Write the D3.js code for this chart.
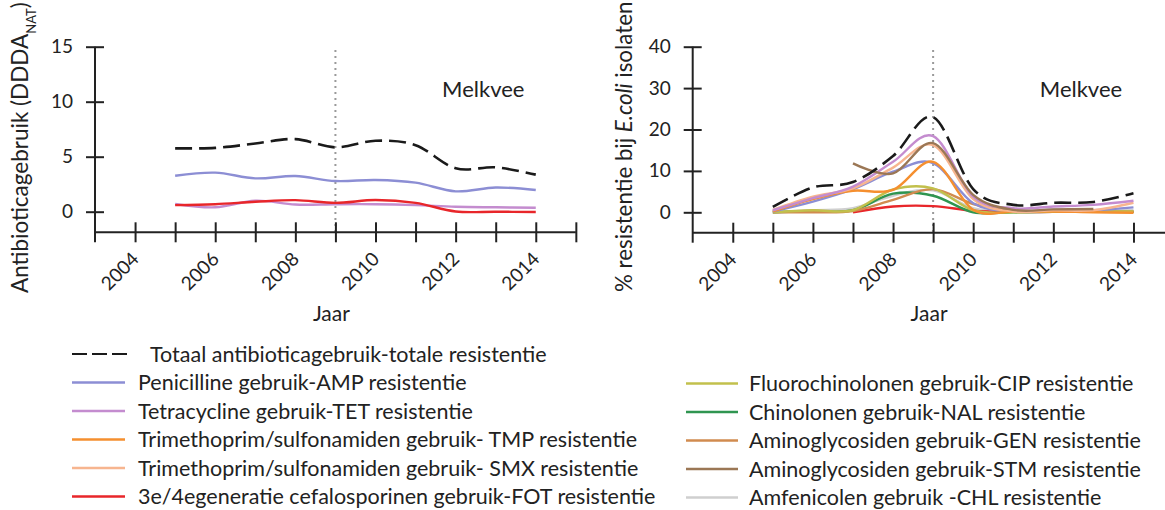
<!DOCTYPE html>
<html>
<head>
<meta charset="utf-8">
<script src="https://cdn.jsdelivr.net/npm/d3@7"></script>
<style>
  body { margin: 0; background: #fff; }
  svg text { font-family: Lato, "Open Sans", sans-serif; fill: #222; }
</style>
</head>
<body>
<div id="chart"></div>
<script>
var width = 1165;
var height = 510;

// years on the x axis
var years = [2005, 2006, 2007, 2008, 2009, 2010, 2011, 2012, 2013, 2014];
var evenYears = [2004, 2006, 2008, 2010, 2012, 2014];

// left panel: antibiotic use (DDDA_NAT)
var useTotal = [5.76, 5.8, 6.2, 6.6, 5.85, 6.45, 6.05, 3.95, 4.03, 3.37];
var useAMP   = [3.27, 3.55, 3.03, 3.24, 2.79, 2.88, 2.64, 1.85, 2.2, 1.97];
var useTET   = [0.7, 0.4, 1.0, 0.65, 0.68, 0.68, 0.6, 0.45, 0.4, 0.36];
var useFOT   = [0.6, 0.68, 0.9, 1.05, 0.8, 1.06, 0.8, 0.02, 0.0, -0.03];

// right panel: % resistance in E. coli
var resTotal = [1.3, 6.0, 7.3, 13.6, 23.0, 5.6, 1.8, 2.3, 2.5, 4.6];
var resTET   = [0.5, 3.4, 6.2, 12.2, 18.4, 3.8, 1.0, 1.4, 1.8, 2.8];
var resSTM   = [null, null, 11.8, 9.4, 16.7, 4.2, 0.6, 0.7, 0.8, null];
var resSMX   = [0.6, 3.8, 5.8, 10.8, 16.2, 3.2, 0.2, 0.5, 0.5, 2.3];
var resAMP   = [0.2, 2.6, 5.6, 9.8, 11.9, 2.2, 0.3, 0.6, 0.5, 1.2];
var resTMP   = [0.2, 3.2, 5.2, 5.4, 12.2, 0.6, 0.2, 0.2, 0.0, -0.1];
var resCIP   = [0.0, 0.5, 0.5, 5.5, 5.8, 0.5, 0.0, 0.2, 0.2, 0.2];
var resNAL   = [0.0, 0.3, 0.5, 4.5, 4.0, 0.0, 0.0, 0.1, 0.1, 0.1];
var resGEN   = [0.0, 0.0, 0.3, 3.0, 5.6, 2.0, 0.3, 0.2, 0.2, 0.2];
var resCHL   = [0.0, 0.5, 1.0, 4.0, 5.3, 1.0, 0.2, 0.3, 0.3, 0.5];
var resFOT   = [null, null, 0.0, 1.4, 1.5, 0.4, 0.1, 0.1, 0.1, 0.1];

// legend
var legendLeft = [
  "Penicilline gebruik-AMP resistentie",
  "Tetracycline gebruik-TET resistentie",
  "Trimethoprim/sulfonamiden gebruik- TMP resistentie",
  "Trimethoprim/sulfonamiden gebruik- SMX resistentie",
  "3e/4egeneratie cefalosporinen gebruik-FOT resistentie"
];
var legendRight = [
  "Fluorochinolonen gebruik-CIP resistentie",
  "Chinolonen gebruik-NAL resistentie",
  "Aminoglycosiden gebruik-GEN resistentie",
  "Aminoglycosiden gebruik-STM resistentie",
  "Amfenicolen gebruik -CHL resistentie"
];
var totalLabel = "Totaal antibioticagebruik-totale resistentie";

var colors = {
  total: "#1a1a1a", AMP: "#8c8ed4", TET: "#c48ccf", TMP: "#f58f2f", SMX: "#f7b58f",
  FOT: "#e8262a", CIP: "#c2c04c", NAL: "#2f9550", GEN: "#d18b4f", STM: "#9b7755", CHL: "#cfcfcf"
};
var legendLeftColors = [colors.AMP, colors.TET, colors.TMP, colors.SMX, colors.FOT];
var legendRightColors = [colors.CIP, colors.NAL, colors.GEN, colors.STM, colors.CHL];

var svg = d3.select("#chart").append("svg")
  .attr("width", width)
  .attr("height", height);

function drawPanel(opt) {
  var x = d3.scaleLinear().domain([2003, 2015]).range([opt.x0, opt.x0 + 12 * 40.07]);
  var y = d3.scaleLinear().domain([0, opt.yMax]).range([opt.y0, 46.7]);
  var axisY = opt.axisY;
  var g = svg.append("g");

  // dotted line at 2009
  g.append("line")
    .attr("x1", x(2009)).attr("x2", x(2009))
    .attr("y1", 50).attr("y2", axisY)
    .attr("stroke", "#9a9a9a")
    .attr("stroke-width", 2)
    .attr("stroke-dasharray", "2,4");

  // y axis
  var yAxis = d3.axisLeft(y).tickValues(opt.yTicks).tickSize(0).tickPadding(0);
  var gy = g.append("g")
    .attr("transform", "translate(" + opt.x0 + ",0)")
    .call(yAxis);
  gy.select(".domain").remove();
  gy.selectAll(".tick line").attr("x1", -9).attr("x2", 9).attr("stroke", "#222").attr("stroke-width", 2);
  gy.selectAll(".tick text").attr("x", -22).attr("font-size", "19px").attr("fill", "#222")
    .attr("font-family", "Lato, sans-serif");
  g.append("line")
    .attr("x1", opt.x0).attr("x2", opt.x0)
    .attr("y1", y(opt.yMax)).attr("y2", axisY + 10)
    .attr("stroke", "#222").attr("stroke-width", 2);

  // x axis
  var xAxis = d3.axisBottom(x).tickValues(d3.range(2004, 2016)).tickSize(0).tickFormat("");
  var gx = g.append("g")
    .attr("transform", "translate(0," + axisY + ")")
    .call(xAxis);
  gx.select(".domain").remove();
  gx.selectAll(".tick line").attr("y1", -10).attr("y2", 10).attr("stroke", "#222").attr("stroke-width", 2);
  g.append("line")
    .attr("x1", opt.x0).attr("x2", x(2015))
    .attr("y1", axisY).attr("y2", axisY)
    .attr("stroke", "#222").attr("stroke-width", 2);

  g.selectAll(".yearlabel")
    .data(evenYears)
    .enter().append("text")
    .attr("class", "yearlabel")
    .attr("transform", function (d) { return "translate(" + (x(d) + 5) + "," + (axisY + 28) + ") rotate(-45)"; })
    .attr("text-anchor", "end")
    .attr("font-size", "19px")
    .text(function (d) { return d; });

  g.append("text")
    .attr("x", x(2008.9)).attr("y", 321)
    .attr("text-anchor", "middle")
    .attr("font-size", "21px")
    .text("Jaar");

  g.append("text")
    .attr("x", x(2012.69)).attr("y", 97)
    .attr("text-anchor", "middle")
    .attr("font-size", "22px")
    .text("Melkvee");

  var line = d3.line()
    .defined(function (d) { return d.v != null; })
    .x(function (d) { return x(d.year); })
    .y(function (d) { return y(d.v); })
    .curve(d3.curveCatmullRom.alpha(0));

  opt.series.forEach(function (s) {
    var pts = years.map(function (yr, i) { return { year: yr, v: s.values[i] }; });
    g.append("path")
      .datum(pts)
      .attr("d", line)
      .attr("fill", "none")
      .attr("stroke", s.color)
      .attr("stroke-width", s.dashed ? 2.6 : 2.4)
      .attr("stroke-dasharray", s.dashed ? "17,7" : null);
  });
  return g;
}

var left = drawPanel({
  x0: 95, y0: 211.7, yMax: 15, axisY: 232.3, yTicks: [0, 5, 10, 15],
  series: [
    { values: useTET, color: colors.TET },
    { values: useFOT, color: colors.FOT },
    { values: useAMP, color: colors.AMP },
    { values: useTotal, color: colors.total, dashed: true }
  ]
});

var right = drawPanel({
  x0: 692.7, y0: 212.3, yMax: 40, axisY: 232.7, yTicks: [0, 10, 20, 30, 40],
  series: [
    { values: resCHL, color: colors.CHL },
    { values: resFOT, color: colors.FOT },
    { values: resNAL, color: colors.NAL },
    { values: resGEN, color: colors.GEN },
    { values: resCIP, color: colors.CIP },
    { values: resAMP, color: colors.AMP },
    { values: resTMP, color: colors.TMP },
    { values: resSMX, color: colors.SMX },
    { values: resTET, color: colors.TET },
    { values: resSTM, color: colors.STM },
    { values: resTotal, color: colors.total, dashed: true }
  ]
});

// y axis titles
var t1 = svg.append("text")
  .attr("transform", "translate(28,293) rotate(-90)")
  .attr("font-size", "22.5px");
t1.append("tspan").text("Antibioticagebruik (DDDA");
t1.append("tspan").attr("font-size", "13px").attr("baseline-shift", "sub").text("NAT");
t1.append("tspan").text(")");

var t2 = svg.append("text")
  .attr("transform", "translate(632,292) rotate(-90)")
  .attr("font-size", "22.3px");
t2.append("tspan").text("% resistentie bij ");
t2.append("tspan").attr("font-style", "italic").text("E.coli");
t2.append("tspan").text(" isolaten");

// legend
var legend = svg.append("g");
legend.append("line")
  .attr("x1", 72).attr("x2", 128).attr("y1", 354).attr("y2", 354)
  .attr("stroke", colors.total).attr("stroke-width", 2.2).attr("stroke-dasharray", "15,5");
legend.append("text")
  .attr("x", 150).attr("y", 354).attr("dy", "0.35em")
  .attr("font-size", "21.5px")
  .text(totalLabel);

var rowY = d3.scaleLinear().domain([0, 1]).range([382.5, 411]);

legend.selectAll(".legL")
  .data(legendLeft)
  .enter().append("line")
  .attr("x1", 72).attr("x2", 125)
  .attr("y1", function (d, i) { return rowY(i); })
  .attr("y2", function (d, i) { return rowY(i); })
  .attr("stroke", function (d, i) { return legendLeftColors[i]; })
  .attr("stroke-width", 2.4);
legend.selectAll(".legLt")
  .data(legendLeft)
  .enter().append("text")
  .attr("x", 138).attr("y", function (d, i) { return rowY(i); })
  .attr("dy", "0.35em")
  .attr("font-size", "21.5px")
  .text(function (d) { return d; });

legend.selectAll(".legR")
  .data(legendRight)
  .enter().append("line")
  .attr("x1", 686).attr("x2", 738)
  .attr("y1", function (d, i) { return rowY(i) + 1; })
  .attr("y2", function (d, i) { return rowY(i) + 1; })
  .attr("stroke", function (d, i) { return legendRightColors[i]; })
  .attr("stroke-width", 2.4);
legend.selectAll(".legRt")
  .data(legendRight)
  .enter().append("text")
  .attr("x", 749).attr("y", function (d, i) { return rowY(i) + 1; })
  .attr("dy", "0.35em")
  .attr("font-size", "21.5px")
  .text(function (d) { return d; });
</script>
</body>
</html>
